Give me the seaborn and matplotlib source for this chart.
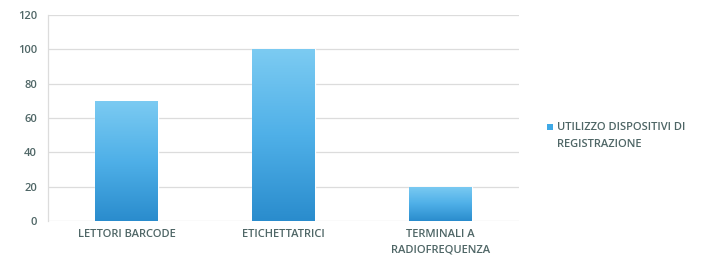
import numpy as np
import pandas as pd
import matplotlib
matplotlib.use("Agg")
import matplotlib.pyplot as plt
import seaborn as sns
from matplotlib.colors import LinearSegmentedColormap
from matplotlib.patches import Rectangle

categories = ["LETTORI BARCODE", "ETICHETTATRICI", "TERMINALI A\nRADIOFREQUENZA"]
values = [70, 100, 20]
series_name = "UTILIZZO DISPOSITIVI DI\nREGISTRAZIONE"
y_ticks = [0, 20, 40, 60, 80, 100, 120]

sns.set_theme(style="white")
plt.rcParams['font.family'] = ['Open Sans', 'DejaVu Sans']
text_color = "#4f6666"
W, H = 721, 267

df = pd.DataFrame({"cat": categories, "val": values})
fig = plt.figure(figsize=(7.21, 2.67), dpi=100)
ax = fig.add_axes([0.0666, 0.1723, 0.653, 0.7715])
sns.barplot(data=df, x="cat", y="val", ax=ax, color="#3fa9e6", width=0.4, saturation=1)

cmap = LinearSegmentedColormap.from_list("g", ["#2a8ccd", "#4fb0e8", "#7ccbf2"])
grad = np.linspace(0, 1, 256).reshape(-1, 1)
for p in ax.patches:
    x0, y0 = p.get_x(), p.get_y()
    w, h = p.get_width(), p.get_height()
    im = ax.imshow(grad, extent=[x0, x0 + w, y0, y0 + h], origin="lower",
                   cmap=cmap, aspect="auto", zorder=p.get_zorder() + 0.1)
    im.set_clip_path(p)

ax.set_xlim(-0.5, 2.5)
ax.set_ylim(0, 120)
ax.set_yticks(y_ticks)
ax.yaxis.grid(True, color="#dcdcdc", linewidth=0.9)
ax.set_axisbelow(True)
for s in ["top", "right", "bottom"]:
    ax.spines[s].set_visible(False)
ax.spines["left"].set_color("#dcdcdc")
ax.spines["left"].set_linewidth(0.9)
ax.set_xlabel("")
ax.set_ylabel("")
ax.tick_params(axis="both", length=0, colors=text_color, labelsize=8)
ax.tick_params(axis="y", pad=8)
ax.tick_params(axis="x", pad=6)
for lbl in ax.get_xticklabels() + ax.get_yticklabels():
    lbl.set_fontweight("semibold")
for lbl in ax.get_xticklabels():
    lbl.set_linespacing(1.5)

# legend: marker aligned with first line of label
fig.patches.append(Rectangle((547 / W, 1 - 130 / H), 6 / W, 6 / H,
                             transform=fig.transFigure, facecolor="#3fa9e6",
                             edgecolor="none"))
fig.text(557 / W, 1 - 122 / H, series_name, ha="left", va="top",
         fontsize=8, fontweight="semibold", color=text_color, linespacing=1.75)

fig.savefig("out.png", dpi=100)
